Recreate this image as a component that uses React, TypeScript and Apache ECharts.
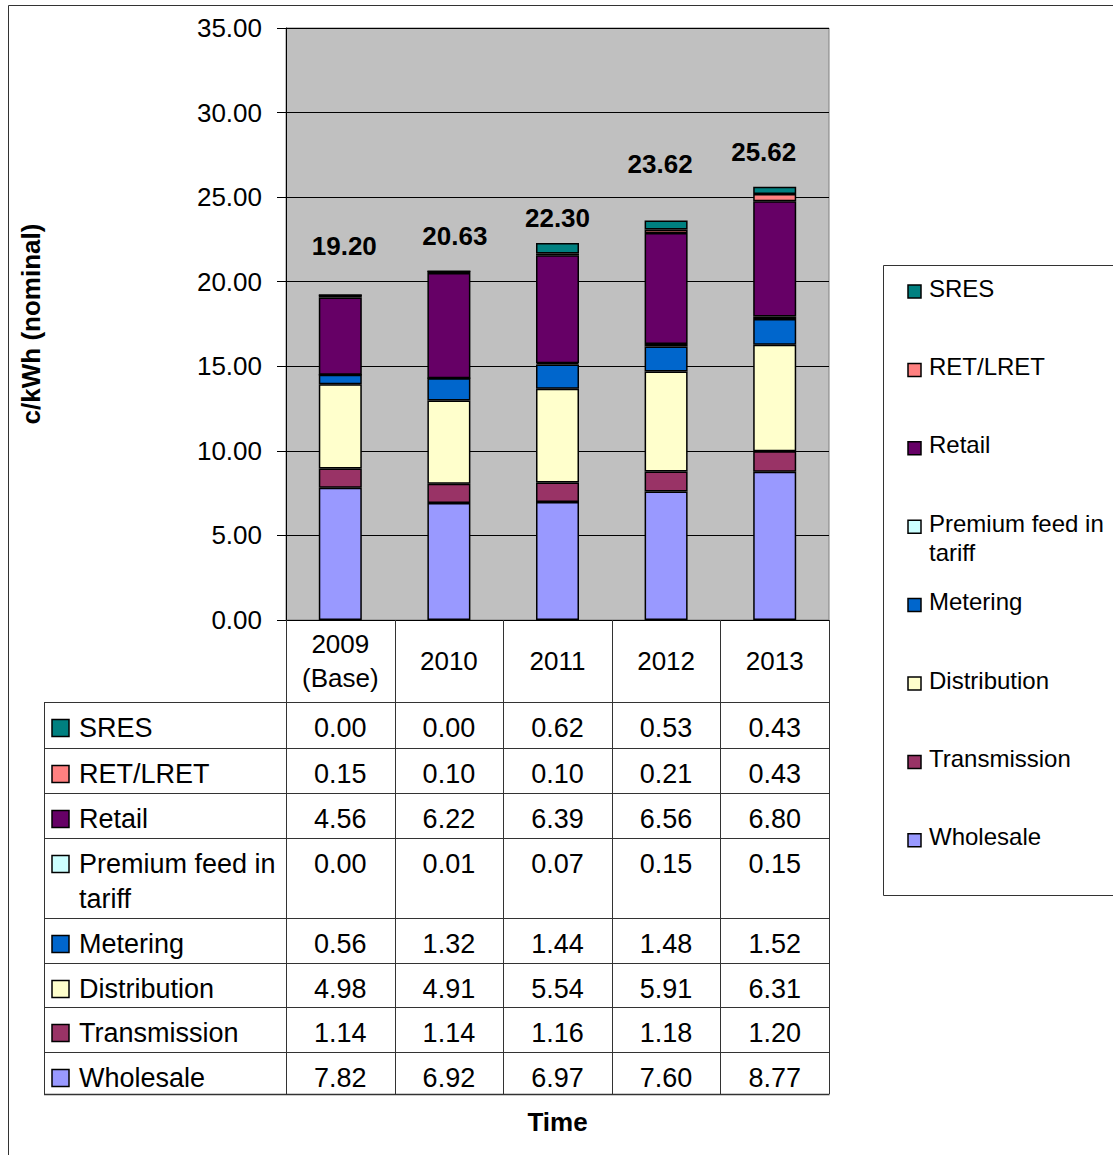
import React, { useEffect, useRef } from "react";
import * as echarts from "echarts";

// Years shown on the category axis
const years = ["2009\n(Base)", "2010", "2011", "2012", "2013"];

// Price components in c/kWh, bottom of the stack first
const wholesale = [7.82, 6.92, 6.97, 7.6, 8.77];
const transmission = [1.14, 1.14, 1.16, 1.18, 1.2];
const distribution = [4.98, 4.91, 5.54, 5.91, 6.31];
const metering = [0.56, 1.32, 1.44, 1.48, 1.52];
const premiumFeedIn = [0.0, 0.01, 0.07, 0.15, 0.15];
const retail = [4.56, 6.22, 6.39, 6.56, 6.8];
const retLret = [0.15, 0.1, 0.1, 0.21, 0.43];
const sres = [0.0, 0.0, 0.62, 0.53, 0.43];

// Total price printed above each column
const totals = [19.2, 20.63, 22.3, 23.62, 25.62];

// Y axis range
const yMin = 0;
const yMax = 35;
const yStep = 5;

type Component = { name: string; label: string; values: number[]; color: string };

// Stack order, bottom to top
const components: Component[] = [
  { name: "Wholesale", label: "Wholesale", values: wholesale, color: "#9999FF" },
  { name: "Transmission", label: "Transmission", values: transmission, color: "#993366" },
  { name: "Distribution", label: "Distribution", values: distribution, color: "#FFFFCC" },
  { name: "Metering", label: "Metering", values: metering, color: "#0066CC" },
  { name: "Premium feed in tariff", label: "Premium feed in\ntariff", values: premiumFeedIn, color: "#CCFFFF" },
  { name: "Retail", label: "Retail", values: retail, color: "#660066" },
  { name: "RET/LRET", label: "RET/LRET", values: retLret, color: "#FF8080" },
  { name: "SRES", label: "SRES", values: sres, color: "#008080" },
];

// Layout (pixels)
const W = 1113;
const H = 1155;
const GRID_LEFT = 286;
const GRID_TOP = 28;
const GRID_W = 543;
const GRID_H = 592;
const TABLE_LEFT = 44;
const ROW_LINES = [702, 748, 793, 838, 918, 963, 1007, 1052, 1094];
// hand-placed offsets of the total labels relative to the column top
const TOTAL_LABEL_DX = [4, 6, 0, -6, -11];
const TOTAL_LABEL_LIFT = [49, 34.6, 24.8, 56, 34.7];
const FONT = "'Liberation Sans', Arial, sans-serif";

function buildGraphics() {
  const els: any[] = [];
  const gridRight = GRID_LEFT + GRID_W;
  const gridBottom = GRID_TOP + GRID_H;
  const colW = GRID_W / years.length;
  const lineStyle = { stroke: "#333", lineWidth: 1 };

  // outer chart frame (runs past the page edge on the right and bottom)
  els.push({
    type: "rect",
    shape: { x: 8.5, y: 5.5, width: 1300, height: 1300 },
    style: { fill: "none", stroke: "#333", lineWidth: 1 },
    silent: true,
    z: 1,
  });

  // data table: column lines
  for (let k = 0; k <= years.length; k++) {
    const x = Math.round(GRID_LEFT + k * colW) + 0.5;
    els.push({
      type: "line",
      shape: { x1: x, y1: gridBottom, x2: x, y2: ROW_LINES[ROW_LINES.length - 1] },
      style: lineStyle,
      silent: true,
      z: 5,
    });
  }
  els.push({
    type: "line",
    shape: { x1: TABLE_LEFT + 0.5, y1: ROW_LINES[0], x2: TABLE_LEFT + 0.5, y2: ROW_LINES[ROW_LINES.length - 1] },
    style: lineStyle,
    silent: true,
    z: 5,
  });
  // data table: row lines
  ROW_LINES.forEach((y, i) => {
    els.push({
      type: "line",
      shape: { x1: TABLE_LEFT, y1: y + 0.5, x2: gridRight + 0.5, y2: y + 0.5 },
      style: { stroke: "#333", lineWidth: i === ROW_LINES.length - 1 ? 1.5 : 1 },
      silent: true,
      z: 5,
    });
  });

  // data table: rows, top row is the top of the stack
  const rows = components.slice().reverse();
  rows.forEach((c, r) => {
    const top = ROW_LINES[r];
    const cy = top + 26;
    els.push({
      type: "rect",
      shape: { x: 52, y: cy - 8.5, width: 17, height: 17 },
      style: { fill: c.color, stroke: "#000", lineWidth: 1.5 },
      silent: true,
      z: 6,
    });
    els.push({
      type: "text",
      x: 79,
      y: top + 8.5,
      style: {
        text: c.label,
        font: `27px ${FONT}`,
        fill: "#000",
        verticalAlign: "top",
        align: "left",
        lineHeight: 35,
      },
      silent: true,
      z: 6,
    });
    c.values.forEach((v, i) => {
      els.push({
        type: "text",
        x: GRID_LEFT + (i + 0.5) * colW,
        y: top + 8.5,
        style: {
          text: v.toFixed(2),
          font: `27px ${FONT}`,
          fill: "#000",
          verticalAlign: "top",
          align: "center",
          lineHeight: 35,
        },
        silent: true,
        z: 6,
      });
    });
  });

  // legend box on the right (runs past the page edge)
  els.push({
    type: "rect",
    shape: { x: 883.5, y: 265.5, width: 400, height: 630 },
    style: { fill: "#fff", stroke: "#333", lineWidth: 1 },
    silent: true,
    z: 3,
  });
  rows.forEach((c, r) => {
    const cy = 288 + r * 78.4;
    els.push({
      type: "rect",
      shape: { x: 908, y: cy - 3, width: 13, height: 13 },
      style: { fill: c.color, stroke: "#000", lineWidth: 1.5 },
      silent: true,
      z: 4,
    });
    els.push({
      type: "text",
      x: 929,
      y: cy - 14.5,
      style: {
        text: c.label,
        font: `24px ${FONT}`,
        fill: "#000",
        verticalAlign: "top",
        align: "left",
        lineHeight: 29,
      },
      silent: true,
      z: 4,
    });
  });

  return els;
}

export default function App() {
  const ref = useRef<HTMLDivElement>(null);

  useEffect(() => {
    if (!ref.current) return;
    const chart = echarts.init(ref.current, undefined, { renderer: "svg" });

    const barSeries = components.map((c) => ({
      name: c.name,
      type: "bar",
      stack: "price",
      barWidth: 43,
      data: c.values,
      itemStyle: { color: c.color, borderColor: "#000", borderWidth: 1.5 },
      z: 2,
    }));

    const totalSeries = {
      name: "Total",
      type: "line",
      data: totals.map((v, i) => ({
        value: v,
        label: { offset: [TOTAL_LABEL_DX[i], -TOTAL_LABEL_LIFT[i]] },
      })),
      symbol: "circle",
      symbolSize: 1,
      itemStyle: { color: "rgba(0,0,0,0)" },
      lineStyle: { opacity: 0 },
      label: {
        show: true,
        position: "inside",
        formatter: (p: any) => Number(p.value).toFixed(2),
        fontFamily: FONT,
        fontSize: 26,
        fontWeight: "bold",
        color: "#000",
      },
      z: 4,
    };

    chart.setOption({
      animation: false,
      backgroundColor: "#fff",
      grid: {
        left: GRID_LEFT,
        top: GRID_TOP,
        width: GRID_W,
        height: GRID_H,
        show: true,
        backgroundColor: "#C0C0C0",
        borderColor: "#808080",
        borderWidth: 1,
      },
      xAxis: {
        type: "category",
        data: years,
        name: "Time",
        nameLocation: "middle",
        nameGap: 489,
        nameTextStyle: { fontFamily: FONT, fontSize: 26, fontWeight: "bold", color: "#000" },
        axisLine: { show: true, lineStyle: { color: "#000", width: 1 } },
        axisTick: { show: false },
        axisLabel: {
          fontFamily: FONT,
          fontSize: 26,
          color: "#000",
          lineHeight: 34,
          margin: 41,
          verticalAlign: "middle",
          align: "center",
        },
        splitLine: { show: false },
      },
      yAxis: {
        type: "value",
        min: yMin,
        max: yMax,
        interval: yStep,
        name: "c/kWh (nominal)",
        nameLocation: "middle",
        nameRotate: 90,
        nameGap: 242,
        nameTextStyle: { fontFamily: FONT, fontSize: 26, fontWeight: "bold", color: "#000" },
        axisLine: { show: true, lineStyle: { color: "#000", width: 1 } },
        axisTick: { show: true, inside: false, length: 9, lineStyle: { color: "#000" } },
        axisLabel: {
          fontFamily: FONT,
          fontSize: 26,
          color: "#000",
          margin: 24,
          formatter: (v: number) => v.toFixed(2),
        },
        splitLine: { show: true, lineStyle: { color: "#000", width: 1 } },
      },
      graphic: buildGraphics(),
      series: [...barSeries, totalSeries],
    });

    return () => chart.dispose();
  }, []);

  return (
    <div
      ref={ref}
      style={{ position: "absolute", left: 0, top: 0, width: W, height: H }}
    />
  );
}
